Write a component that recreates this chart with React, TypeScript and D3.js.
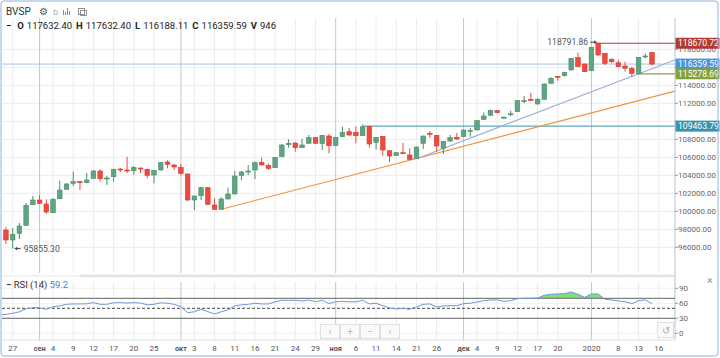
import React from 'react';
import * as d3 from 'd3';

// BVSP daily candles, 23 Aug 2019 .. 15 Jan 2020 (index = trading day)
const opens = [
  100144, 97922, 96811, 97556, 98444, 100733, 101256, 100811, 99844, 101400,
  102444, 103111, 103289, 103178, 103667, 104478, 103644, 103844, 104700, 104589,
  104511, 104811, 104667, 104033, 104589, 105478, 105144, 104867, 104144, 101256,
  101733, 102622, 100700, 100222, 101367, 101922, 104000, 104422, 104589, 105444,
  105089, 104844, 106067, 107400, 107589, 107067, 107556, 108178, 107533, 108367,
  107289, 108289, 108844, 108778, 108400, 109444, 107667, 108333, 106733, 106200,
  106511, 106256, 105867, 107556, 108667, 108444, 107000, 107811, 108222, 108289,
  108922, 109033, 110222, 110667, 111178, 110400, 110733, 111067, 112256, 112444,
  111922, 112444, 114222, 115000, 115067, 115700, 117089, 116367, 115622, 118670.72,
  117556, 116889, 116511, 116144, 115889, 115278.69, 117200, 117632.4,
];
const highs = [
  100367, 98256, 98144, 98700, 100922, 101700, 101811, 101333, 101478, 103400,
  103144, 104400, 103367, 104256, 104589, 104667, 103922, 104733, 104811, 106067,
  105033, 104867, 104733, 104589, 105478, 105667, 105256, 105256, 104200, 101756,
  102733, 102700, 101444, 101556, 102622, 104478, 104478, 105144, 105511, 105956,
  105333, 106033, 107478, 108000, 107667, 108033, 108478, 108222, 108478, 108589,
  108256, 109400, 109256, 109450, 109463.79, 109460, 108256, 108367, 106756, 106556,
  107589, 107000, 107178, 108389, 108922, 108478, 107811, 108478, 108700, 109055,
  109222, 110089, 110978, 111311, 111256, 110533, 111178, 112311, 112811, 113178,
  112589, 114200, 114889, 115033, 115511, 117033, 117622, 116422, 118256, 118791.86,
  117589, 117000, 116811, 116622, 116067, 117144, 117556, 117632.4,
];
const lows = [
  97700, 96367, 95855.3, 96922, 98367, 100700, 100811, 99700, 99811, 101367,
  102422, 102811, 102367, 103144, 103589, 103289, 102922, 103289, 104367, 104256,
  104067, 104256, 103667, 103111, 104533, 104778, 104589, 104000, 101144, 100144,
  101256, 100700, 100150, 100220, 101333, 101867, 103478, 104033, 103589, 105067,
  104589, 104811, 106033, 107067, 106622, 107033, 107533, 107522, 106811, 106444,
  107256, 108256, 108367, 107556, 108367, 107089, 106867, 106144, 105478, 106144,
  106367, 105700, 105833, 106922, 108144, 106589, 106367, 107700, 107922, 108256,
  108289, 109011, 110144, 110644, 110889, 110333, 110589, 111033, 112000, 112256,
  111867, 112422, 114200, 114511, 114956, 115644, 116033, 115478, 115589, 117256,
  116256, 116444, 116000, 115511, 114956, 115200, 117000, 116188.11,
];
const closes = [
  97922, 96811, 97444, 98367, 100667, 101256, 100889, 99922, 101333, 102367,
  103033, 103289, 103200, 103478, 104478, 103622, 103700, 104667, 104589, 104478,
  104889, 104700, 104000, 104556, 105400, 105222, 104922, 104222, 101256, 101700,
  102622, 100778, 100222, 101367, 101922, 103922, 104367, 104478, 105400, 105144,
  104778, 106000, 107367, 107556, 107067, 107367, 108178, 107556, 108444, 107289,
  108222, 108778, 108478, 108400, 109400, 107478, 108222, 106811, 106144, 106511,
  106444, 105778, 107144, 108367, 108589, 107256, 107778, 108178, 108033, 109033,
  108978, 110067, 110589, 111200, 110956, 110456, 110833, 112289, 112311, 112333,
  112444, 114144, 114778, 114922, 115444, 117000, 116067, 115511, 118222, 117367,
  116444, 116622, 116067, 115889, 115333, 117111, 117256, 116359.59,
];
const rsiValues = [
  36.7, 38, 40, 43, 49, 51.3, 51, 48, 53, 55,
  58, 58.7, 58.7, 59, 61.3, 58, 58, 61, 61.3, 60.5,
  61.3, 60.5, 57, 58, 61, 60, 58, 53.3, 41.3, 43,
  48, 43.3, 38.7, 43, 47, 55, 57, 58, 60, 58.7,
  58.7, 63, 66, 66, 66, 64.5, 66.5, 63.3, 66, 59.5,
  63, 64, 63, 63, 66, 58.7, 60, 55.3, 50.7, 48.7,
  50, 48, 52.7, 58, 58.7, 52.7, 54.7, 55.3, 55.3, 59.3,
  60, 62.7, 65.3, 66.7, 66.7, 64, 65.3, 69.3, 70, 70,
  70.7, 76, 78, 78.7, 79.3, 82.7, 78, 72, 78.7, 78.7,
  68, 66.7, 64.7, 63.3, 59.3, 65.3, 66.7, 59.2,
];

const tickDays = [2, 6, 8, 11, 14, 17, 20, 23, 27, 29, 32, 35, 38, 41, 44, 47, 50, 53, 56, 59, 62, 65, 69, 71, 74, 77, 80, 83, 88, 92, 95, 98];
const tickLabels = ['27', 'сен', '4', '9', '12', '17', '20', '25', 'окт', '3', '8', '11', '16', '21', '24', '29', 'ноя', '6', '11', '14', '21', '26', 'дек', '4', '9', '12', '17', '20', '2020', '8', '13', '16'];
const monthLabels = ['сен', 'окт', 'ноя', 'дек', '2020'];
const priceTicks = [96000, 98000, 100000, 102000, 104000, 106000, 108000, 110000, 112000, 114000, 116000, 118000];
const rsiTicks = [0, 30, 60, 90];

// drawings
const lastPrice = 116359.59;
const redLevel = { from: 89, price: 118670.72 };
const tealLevel = { from: 54, price: 109463.79 };
const oliveLevel = { from: 95, price: 115278.69 };
const blueTrend = [[62, 105850], [100.4, 116810]];
const orangeTrend = [[33, 100220], [100.4, 113357]];
const maxMark = { day: 89, price: 118791.86 };
const minMark = { day: 2, price: 95855.3 };

const FONT = 'Roboto, Arial, sans-serif';
const GREEN = '#5ea582';
const GREEN_D = '#4a8c6b';
const RED = '#ee4a3f';
const RED_D = '#d9392f';

export default function App() {
  const plotL = 2;
  const plotR = 675;
  const mainTop = 18;
  const mainBot = 273;
  const rsiTop = 278;
  const rsiBot = 340;

  const x = d3.scaleLinear().domain([0, 98]).range([-0.8, 658.74]);
  const y = d3.scaleLinear().domain([96000, 118000]).range([247.3, 49.3]);
  const yr = d3.scaleLinear().domain([0, 90]).range([333.3, 288.3]);

  const rsiLine = d3.line<number>().x((_, i) => x(i)).y((d) => yr(d));
  const rsiArea = d3.area<number>().x((_, i) => x(i)).y0(yr(70)).y1((d) => yr(d));
  const trend = d3.line<number[]>().x((d) => x(d[0])).y((d) => y(d[1]));

  const bw = 4.6;

  // labels hidden behind the price boxes (as in the original)
  const boxed = [lastPrice, tealLevel.price, oliveLevel.price];
  const visibleTicks = priceTicks.filter((p) => boxed.every((b) => Math.abs(y(p) - y(b)) > 9));

  const priceBox = (p: number, fill: string) => (
    <g key={'box' + p}>
      <rect x={675.5} y={y(p) - 5.5} width={44} height={11} fill={fill} />
      <text x={678} y={y(p) + 3} fontSize={8.6} fill="#fff">{p.toFixed(2)}</text>
    </g>
  );

  return (
    <svg width={720} height={358} style={{ position: 'fixed', left: 0, top: 0, background: '#fff' }} fontFamily={FONT}>
      <defs>
        <clipPath id="mainClip"><rect x={plotL} y={mainTop} width={plotR - plotL} height={mainBot - mainTop} /></clipPath>
        <clipPath id="rsiClip"><rect x={plotL} y={rsiTop} width={plotR - plotL} height={rsiBot - rsiTop} /></clipPath>
        <clipPath id="obClip"><rect x={plotL} y={rsiTop} width={plotR - plotL} height={yr(70) - rsiTop} /></clipPath>
      </defs>

      {/* grid */}
      <g>
        {priceTicks.map((p) => (
          <line key={'hg' + p} x1={plotL} x2={plotR} y1={y(p)} y2={y(p)} stroke="#ededed" />
        ))}
        {rsiTicks.map((r) => (
          <line key={'rg' + r} x1={plotL} x2={plotR} y1={yr(r)} y2={yr(r)} stroke="#f0f0f0" />
        ))}
        {tickDays.map((d, i) => {
          const isMonth = monthLabels.includes(tickLabels[i]);
          const c = isMonth ? '#c6c6c6' : '#ececec';
          return (
            <g key={'vg' + i}>
              <line x1={x(d)} x2={x(d)} y1={mainTop} y2={mainBot} stroke={c} />
              <line x1={x(d)} x2={x(d)} y1={rsiTop + 4} y2={rsiBot} stroke={c} />
            </g>
          );
        })}
      </g>

      {/* main pane */}
      <g clipPath="url(#mainClip)">
        <line x1={plotL} x2={plotR} y1={y(lastPrice)} y2={y(lastPrice)} stroke="#a9c3e3" />
        <line x1={x(tealLevel.from)} x2={plotR} y1={y(tealLevel.price)} y2={y(tealLevel.price)} stroke="#5fa8bf" strokeWidth={1.3} />
        <line x1={x(tealLevel.from)} x2={x(tealLevel.from)} y1={y(tealLevel.price) - 2} y2={y(tealLevel.price) + 2} stroke="#5fa8bf" />
        <path d={trend(orangeTrend as number[][]) || ''} stroke="#ee9440" fill="none" strokeWidth={1.1} />
        <path d={trend(blueTrend as number[][]) || ''} stroke="#98acdb" fill="none" strokeWidth={1.1} />
        <line x1={x(redLevel.from)} x2={plotR} y1={y(redLevel.price)} y2={y(redLevel.price)} stroke="#b23b36" strokeWidth={1.2} />
        <line x1={x(oliveLevel.from)} x2={plotR} y1={y(oliveLevel.price)} y2={y(oliveLevel.price)} stroke="#85a53a" strokeWidth={1.2} />

        {opens.map((o, i) => {
          const c = closes[i];
          const up = c >= o;
          const top = y(Math.max(o, c));
          const bot = y(Math.min(o, c));
          const cx = x(i);
          return (
            <g key={'c' + i}>
              <line x1={cx} x2={cx} y1={y(highs[i])} y2={y(lows[i])} stroke={up ? GREEN_D : RED} strokeWidth={1} />
              <rect
                x={cx - bw / 2}
                y={top}
                width={bw}
                height={Math.max(1, bot - top)}
                fill={up ? GREEN : RED}
                stroke={up ? GREEN_D : RED_D}
                strokeWidth={0.6}
              />
            </g>
          );
        })}

        <text x={x(maxMark.day) - 10} y={y(maxMark.price) + 3} fontSize={8.6} fill="#555" textAnchor="end">
          {maxMark.price.toFixed(2)}
        </text>
        <line x1={x(maxMark.day) - 8} x2={x(maxMark.day) - 1.5} y1={y(maxMark.price)} y2={y(maxMark.price)} stroke="#444" />
        <path d={`M${x(maxMark.day) - 1.5},${y(maxMark.price)} l-2.5,-1.8 v3.6 z`} fill="#444" />
        <line x1={x(minMark.day) + 2} x2={x(minMark.day) + 8} y1={y(minMark.price)} y2={y(minMark.price)} stroke="#444" />
        <path d={`M${x(minMark.day) + 2},${y(minMark.price)} l2.5,-1.8 v3.6 z`} fill="#444" />
        <text x={x(minMark.day) + 11} y={y(minMark.price) + 3} fontSize={8.6} fill="#555">
          {minMark.price.toFixed(2)}
        </text>
      </g>

      {/* price axis */}
      <line x1={plotR} x2={plotR} y1={mainTop} y2={rsiBot} stroke="#b4c3d3" />
      {priceTicks.map((p) => (
        <line key={'ptk' + p} x1={plotR} x2={plotR + 3} y1={y(p)} y2={y(p)} stroke="#999" />
      ))}
      {visibleTicks.map((p) => (
        <text key={'pt' + p} x={678} y={y(p) + 3} fontSize={8} fill="#666">{p.toFixed(2)}</text>
      ))}
      {priceBox(tealLevel.price, '#3793ae')}
      {priceBox(lastPrice, '#4a93dc')}
      {priceBox(oliveLevel.price, '#84a237')}
      {priceBox(redLevel.price, '#b13a35')}

      {/* separator */}
      <line x1={plotL} x2={80} y1={275.8} y2={275.8} stroke="#eeeeee" strokeWidth={1.5} />
      <rect x={80} y={274.6} width={plotR - 80} height={2.6} fill="#e2e2e2" />

      {/* RSI pane */}
      <g clipPath="url(#rsiClip)">
        <g clipPath="url(#obClip)">
          <path d={rsiArea(rsiValues) || ''} fill="#7fe07a" stroke="none" />
        </g>
        <line x1={plotL} x2={plotR} y1={yr(70)} y2={yr(70)} stroke="#666" />
        <line x1={plotL} x2={plotR} y1={yr(30)} y2={yr(30)} stroke="#666" />
        <line x1={plotL} x2={plotR} y1={yr(50)} y2={yr(50)} stroke="#444" strokeDasharray="3,2" />
        <path d={rsiLine(rsiValues) || ''} fill="none" stroke="#6e97d6" strokeWidth={1} />
      </g>
      {rsiTicks.map((r) => (
        <g key={'rt' + r}>
          <line x1={plotR} x2={plotR + 3} y1={yr(r)} y2={yr(r)} stroke="#999" />
          <text x={679} y={yr(r) + 3} fontSize={8} fill="#666">{r}</text>
        </g>
      ))}
      <text x={6} y={287.5} fontSize={9.5} fill="#333"><tspan fontWeight="bold">−</tspan>  RSI (14) <tspan fill="#4a84c9">59.2</tspan></text>
      <text x={710} y={284} fontSize={11} fill="#999" textAnchor="middle">×</text>

      {/* nav buttons */}
      {['‹', '+', '−', '›'].map((s, i) => (
        <g key={'nb' + i}>
          <rect x={320.5 + i * 20} y={324.5} width={19} height={14} fill="#fafafa" stroke="#e0e0e0" />
          <text x={330 + i * 20} y={335} fontSize={10} fill="#bbb" textAnchor="middle">{s}</text>
        </g>
      ))}
      <rect x={657.5} y={322.5} width={16} height={15} fill="#fafafa" stroke="#e0e0e0" />
      <text x={665.5} y={334} fontSize={10} fill="#aaa" textAnchor="middle">↺</text>

      {/* time axis */}
      <line x1={plotL} x2={plotR} y1={rsiBot} y2={rsiBot} stroke="#ddd" />
      {tickDays.map((d, i) => {
        const isMonth = monthLabels.includes(tickLabels[i]) && tickLabels[i] !== '2020';
        return (
          <text
            key={'tl' + i}
            x={x(d)}
            y={351}
            fontSize={isMonth ? 7.3 : 8}
            fontWeight={isMonth ? 'bold' : 'normal'}
            fill="#555"
            textAnchor="middle"
          >
            {tickLabels[i]}
          </text>
        );
      })}

      {/* header */}
      <text x={6} y={15} fontSize={10} fill="#333">BVSP</text>
      <text x={39} y={15} fontSize={10} fill="#555">⚙</text>
      <text x={53} y={15} fontSize={7.5} fill="#999">D</text>
      <g stroke="#888" strokeWidth={1}>
        <line x1={63.5} x2={63.5} y1={10} y2={15} />
        <line x1={65.5} x2={65.5} y1={12} y2={15} />
        <line x1={67.5} x2={67.5} y1={8} y2={15} />
        <line x1={69.5} x2={69.5} y1={11} y2={15} />
      </g>
      <g stroke="#888" fill="none" strokeWidth={0.9}>
        <rect x={78.5} y={8.5} width={6} height={6} />
        <rect x={80.5} y={10.5} width={6} height={5} />
      </g>
      <text x={6} y={28.5} fontSize={9.5} fill="#222">
        <tspan fontWeight="bold">−</tspan>
        <tspan dx={6} fontWeight="bold">O</tspan>
        <tspan dx={3}>117632.40</tspan>
        <tspan dx={4} fontWeight="bold">H</tspan>
        <tspan dx={3}>117632.40</tspan>
        <tspan dx={4} fontWeight="bold">L</tspan>
        <tspan dx={3}>116188.11</tspan>
        <tspan dx={4} fontWeight="bold">C</tspan>
        <tspan dx={3}>116359.59</tspan>
        <tspan dx={4} fontWeight="bold">V</tspan>
        <tspan dx={3}>946</tspan>
      </text>

      {/* frame */}
      <rect x={1} y={1} width={717} height={355} rx={3} fill="none" stroke="#8fb3e2" />
    </svg>
  );
}
